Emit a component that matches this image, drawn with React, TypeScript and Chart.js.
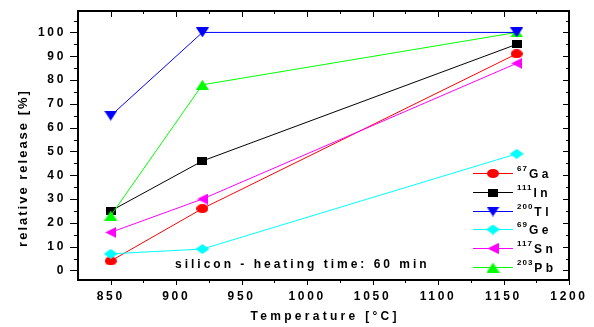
import { useEffect, useRef } from 'react';
import { Chart, registerables } from 'chart.js';

Chart.register(...registerables);

// Heating temperature (°C) and relative release (%) per isotope
const temperatures = [850, 920, 1160];
const ga67 = [4, 26, 91];
const in111 = [25, 46, 95];
const tl200 = [65, 100, 100];
const ge69 = [7, 9, 49];
const sn117 = [16, 30, 87];
const pb203 = [23, 78, 100];

const xTickValues = [850, 900, 950, 1000, 1050, 1100, 1150, 1200];
const yTickValues = [0, 10, 20, 30, 40, 50, 60, 70, 80, 90, 100];

const massNumbers = ['67', '111', '200', '69', '117', '203'];
const elements = ['Ga', 'In', 'Tl', 'Ge', 'Sn', 'Pb'];
const colors = ['#ff0000', '#000000', '#0000ff', '#00ffff', '#ff00ff', '#00ff00'];
const markers = ['ellipse', 'square', 'triDown', 'diamond', 'triLeft', 'triUp'];
// drawing stack: higher number drawn first (underneath)
const stackOrder = [5, 4, 0, 3, 2, 1];

const noteText = 'silicon - heating time: 60 min';
const xTitle = 'Temperature [°C]';
const yTitle = 'relative release [%]';

const FONT = '"Liberation Sans", Arial, Helvetica, sans-serif';

function makeMarker(kind: string, color: string): HTMLCanvasElement {
  const sizes: Record<string, [number, number]> = {
    ellipse: [12, 9],
    square: [10, 8],
    triDown: [13, 10],
    diamond: [14, 10],
    triLeft: [11, 11],
    triUp: [13, 10],
  };
  const [w, h] = sizes[kind];
  const c = document.createElement('canvas');
  c.width = w;
  c.height = h;
  const g = c.getContext('2d')!;
  g.fillStyle = color;
  g.beginPath();
  if (kind === 'ellipse') {
    g.ellipse(w / 2, h / 2, w / 2, h / 2, 0, 0, Math.PI * 2);
  } else if (kind === 'square') {
    g.rect(0, 0, w, h);
  } else if (kind === 'triDown') {
    g.moveTo(0, 0); g.lineTo(w, 0); g.lineTo(w / 2, h);
  } else if (kind === 'triUp') {
    g.moveTo(w / 2, 0); g.lineTo(w, h); g.lineTo(0, h);
  } else if (kind === 'triLeft') {
    g.moveTo(0, h / 2); g.lineTo(w, 0); g.lineTo(w, h);
  } else {
    g.moveTo(w / 2, 0); g.lineTo(w, h / 2); g.lineTo(w / 2, h); g.lineTo(0, h / 2);
  }
  g.closePath();
  g.fill();
  return c;
}

function spacedText(
  ctx: CanvasRenderingContext2D,
  text: string,
  x: number,
  y: number,
  font: string,
  spacing: number,
  align: 'left' | 'center' | 'right' = 'left'
) {
  ctx.save();
  ctx.font = font;
  (ctx as any).letterSpacing = spacing + 'px';
  ctx.textAlign = 'left';
  ctx.textBaseline = 'alphabetic';
  const w = ctx.measureText(text).width - spacing;
  let left = x;
  if (align === 'center') left = x - w / 2;
  if (align === 'right') left = x - w;
  ctx.fillText(text, left, y);
  ctx.restore();
  return w;
}

function noScalePadding(s: any) {
  s.paddingTop = 0;
  s.paddingBottom = 0;
  s.paddingLeft = 0;
  s.paddingRight = 0;
}

export default function App() {
  const ref = useRef<HTMLCanvasElement | null>(null);

  useEffect(() => {
    if (!ref.current) return;
    const series = [ga67, in111, tl200, ge69, sn117, pb203];
    const images = markers.map((m, i) => makeMarker(m, colors[i]));

    const framePlugin = {
      id: 'frameAndNotes',
      beforeDraw(chart: any) {
        chart.ctx.letterSpacing = '2.7px';
      },
      afterDraw(chart: any) {
        const ctx: CanvasRenderingContext2D = chart.ctx;
        (ctx as any).letterSpacing = '0px';
        const { left, right, top, bottom } = chart.chartArea;
        const xs = chart.scales.x;
        const ys = chart.scales.y;
        ctx.save();
        ctx.strokeStyle = '#000';
        // top and right frame lines
        ctx.lineWidth = 2;
        ctx.beginPath();
        ctx.moveTo(left - 1, top);
        ctx.lineTo(right, top);
        ctx.lineTo(right, bottom + 1);
        ctx.stroke();
        ctx.lineWidth = 1;
        ctx.beginPath();
        // x axis ticks every 25 (bottom outward, top inward)
        for (let v = 850; v <= 1200; v += 25) {
          const px = Math.round(xs.getPixelForValue(v)) + 0.5;
          const major = (v - 850) % 50 === 0;
          ctx.moveTo(px, bottom);
          ctx.lineTo(px, bottom + (major ? 5 : 3));
          ctx.moveTo(px, top);
          ctx.lineTo(px, top + (major ? 6 : 3));
        }
        // y axis ticks every 5 (left outward, right inward)
        for (let v = 0; v <= 105; v += 5) {
          const py = Math.round(ys.getPixelForValue(v)) + 0.5;
          const major = v % 10 === 0;
          ctx.moveTo(left, py);
          ctx.lineTo(left - (major ? 8 : 4), py);
          ctx.moveTo(right, py);
          ctx.lineTo(right - (major ? 6 : 3), py);
        }
        ctx.stroke();
        ctx.restore();

        ctx.fillStyle = '#000';
        // axis titles
        spacedText(ctx, xTitle, (left + right) / 2, 320, `bold 12px ${FONT}`, 3.3, 'center');
        ctx.save();
        ctx.translate(27, 169);
        ctx.rotate(-Math.PI / 2);
        spacedText(ctx, yTitle, 0, 0, `bold 13px ${FONT}`, 2, 'center');
        ctx.restore();

        // condition note
        spacedText(ctx, noteText, 175, 268, `bold 12px ${FONT}`, 3, 'left');

        // legend
        const lx0 = 473;
        const lx1 = 513;
        for (let i = 0; i < elements.length; i++) {
          const cy = 173 + i * 18.8;
          ctx.save();
          ctx.strokeStyle = colors[i];
          ctx.lineWidth = 1;
          ctx.beginPath();
          ctx.moveTo(lx0, Math.round(cy) + 0.5);
          ctx.lineTo(lx1, Math.round(cy) + 0.5);
          ctx.stroke();
          const img = images[i];
          ctx.drawImage(img, (lx0 + lx1) / 2 - img.width / 2, Math.round(cy) + 0.5 - img.height / 2);
          ctx.restore();
          ctx.fillStyle = '#000';
          const sw = spacedText(ctx, massNumbers[i], 517, cy - 2, `bold 8px ${FONT}`, 1, 'left');
          spacedText(ctx, elements[i], 517 + sw + 2, cy + 5, `bold 12px ${FONT}`, 3.5, 'left');
        }
      },
    };

    const chart = new Chart(ref.current, {
      type: 'line',
      data: {
        datasets: series.map((vals, i) => ({
          label: massNumbers[i] + elements[i],
          data: temperatures.map((t, j) => ({ x: t, y: vals[j] })),
          borderColor: colors[i],
          backgroundColor: colors[i],
          borderWidth: 1,
          pointStyle: images[i] as any,
          pointRadius: 5,
          pointHoverRadius: 5,
          tension: 0,
          order: stackOrder[i],
        })),
      },
      options: {
        responsive: false,
        animation: false,
        events: [],
        layout: { padding: { left: 0, top: 11, right: 25, bottom: 0 } },
        plugins: {
          legend: { display: false },
          tooltip: { enabled: false },
        },
        scales: {
          x: {
            type: 'linear',
            min: 825,
            max: 1200,
            afterBuildTicks: (s: any) => {
              s.ticks = xTickValues.map((v) => ({ value: v }));
            },
            afterFit: (s: any) => {
              s.height = 47;
              noScalePadding(s);
            },
            grid: { display: false, drawTicks: false },
            border: { display: true, color: '#000', width: 2 },
            ticks: {
              color: '#000',
              font: { family: FONT, size: 12, weight: 'bold' },
              padding: 9,
              maxRotation: 0,
              autoSkip: false,
              callback: (v: any) => String(v),
            },
          },
          y: {
            type: 'linear',
            min: -4,
            max: 109,
            afterBuildTicks: (s: any) => {
              s.ticks = yTickValues.map((v) => ({ value: v }));
            },
            afterFit: (s: any) => {
              s.width = 78;
              noScalePadding(s);
            },
            grid: { display: false, drawTicks: false },
            border: { display: true, color: '#000', width: 2 },
            ticks: {
              color: '#000',
              font: { family: FONT, size: 12, weight: 'bold' },
              padding: 12,
              autoSkip: false,
              callback: (v: any) => String(v),
            },
          },
        },
      },
      plugins: [framePlugin],
    });
    return () => chart.destroy();
  }, []);

  return (
    <div style={{ position: 'absolute', left: 0, top: 0, width: 594, height: 327, background: '#fff' }}>
      <canvas ref={ref} width={594} height={327} style={{ display: 'block' }} />
    </div>
  );
}
